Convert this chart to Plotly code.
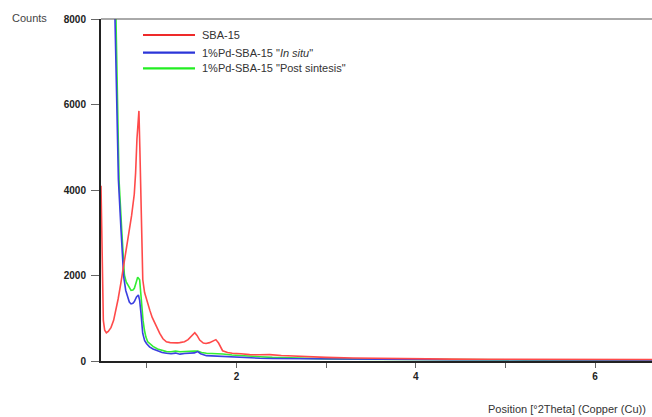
import plotly.graph_objects as go

# ---- data ----
theta_sba = [0.489, 0.497, 0.505, 0.515, 0.53, 0.549, 0.57, 0.6, 0.63, 0.656, 0.68, 0.71, 0.74, 0.77, 0.8,
             0.83, 0.86, 0.875, 0.89, 0.905, 0.912, 0.922, 0.934, 0.944, 0.955, 0.975, 1.0, 1.033, 1.06,
             1.089, 1.12, 1.144, 1.18, 1.218, 1.26, 1.3, 1.34, 1.367, 1.42, 1.46, 1.5, 1.535, 1.56, 1.59,
             1.63, 1.66, 1.7, 1.74, 1.77, 1.8, 1.845, 1.9, 1.953, 2.05, 2.148, 2.26, 2.37, 2.5, 2.6, 2.8,
             3.0, 3.3, 3.6, 4.0, 4.4, 4.8, 5.2, 5.6, 6.0, 6.4, 6.64]
counts_sba = [4100, 3000, 1600, 950, 720, 660, 690, 780, 950, 1200, 1450, 1815, 2200, 2590, 3000,
              3400, 3900, 4400, 5200, 5800, 5850, 5000, 3750, 2600, 1900, 1600, 1400, 1190, 1020,
              880, 740, 645, 520, 450, 430, 420, 425, 430, 450, 500, 580, 660, 600, 490,
              420, 410, 430, 470, 500, 420, 240, 200, 180, 170, 150, 145, 150, 130, 120, 100,
              85, 70, 60, 50, 45, 42, 40, 38, 36, 35, 35]

theta_insitu = [0.49, 0.53, 0.58, 0.62, 0.645, 0.665, 0.683, 0.712, 0.742, 0.765, 0.787, 0.805, 0.824,
                0.845, 0.861, 0.885, 0.906, 0.92, 0.935, 0.954, 0.975, 0.996, 1.03, 1.069, 1.12, 1.17,
                1.219, 1.27, 1.32, 1.37, 1.42, 1.479, 1.53, 1.568, 1.6, 1.665, 1.75, 1.847, 1.95, 2.037,
                2.15, 2.26, 2.4, 2.6, 2.8, 3.0, 3.3, 3.6, 4.0, 4.4, 4.8, 5.2, 5.6, 6.0, 6.4, 6.64]
counts_insitu = [32000, 24000, 15000, 10500, 8000, 6000, 4240, 3070, 1970, 1650, 1500, 1380, 1335,
                 1350, 1390, 1500, 1545, 1420, 1115, 650, 480, 410, 330, 280, 240, 200,
                 180, 170, 185, 160, 175, 180, 190, 220, 170, 125, 115, 100, 90, 85,
                 75, 65, 60, 55, 50, 45, 42, 38, 35, 30, 28, 26, 25, 24, 22, 22]

theta_post = [0.49, 0.53, 0.58, 0.62, 0.656, 0.672, 0.69, 0.72, 0.75, 0.77, 0.787, 0.805, 0.824, 0.845,
              0.861, 0.88, 0.898, 0.91, 0.92, 0.932, 0.943, 0.958, 0.973, 0.99, 1.01, 1.04, 1.069, 1.12,
              1.17, 1.219, 1.27, 1.32, 1.37, 1.42, 1.479, 1.53, 1.568, 1.61, 1.665, 1.75, 1.847, 1.95,
              2.037, 2.15, 2.26, 2.4, 2.6, 2.8, 3.0, 3.3, 3.6, 4.0, 4.4, 4.8, 5.2, 5.6, 6.0, 6.4, 6.64]
counts_post = [33000, 25000, 15800, 11000, 8000, 6000, 4240, 3070, 2010, 1850, 1780, 1700, 1650, 1660,
               1700, 1830, 1960, 1930, 1900, 1600, 1270, 950, 725, 560, 450, 390, 340, 280,
               250, 220, 215, 230, 215, 225, 220, 230, 235, 200, 180, 175, 165, 140,
               125, 110, 100, 85, 70, 60, 50, 45, 40, 35, 30, 28, 26, 25, 24, 22, 22]

y_ticks = [0, 2000, 4000, 6000, 8000]
x_ticks = [1, 2, 3, 4, 5, 6]
x_ticktext = ["", "2", "", "4", "", "6"]

legend_names = ["SBA-15", "1%Pd-SBA-15 \"<i>In situ</i>\"", "1%Pd-SBA-15 \"Post sintesis\""]
colors = ["#ff4a4a", "#3b3fe0", "#33ee33"]
legend_colors = ["#ee2a2a", "#2b35d8", "#22ee22"]

# ---- figure ----
W, H = 652, 417
ml, mr, mt, mb = 101, 0, 19, 56
pw, ph = W - ml - mr, H - mt - mb

fig = go.Figure()
fig.add_trace(go.Scatter(x=theta_post, y=counts_post, mode="lines",
                         line=dict(color=colors[2], width=1.6), showlegend=False))
fig.add_trace(go.Scatter(x=theta_insitu, y=counts_insitu, mode="lines",
                         line=dict(color=colors[1], width=1.6), showlegend=False))
fig.add_trace(go.Scatter(x=theta_sba, y=counts_sba, mode="lines",
                         line=dict(color=colors[0], width=1.6), showlegend=False))


def px2paper(px, py):
    return (px - ml) / pw, (H - mb - py) / ph


shapes = []
annotations = []
# top frame line
shapes.append(dict(type="line", xref="paper", yref="paper", x0=0, x1=1, y0=1, y1=1,
                   line=dict(color="#555555", width=1)))
# manual legend
rows_y = [35, 52.7, 68.3]
for name, c, ry in zip(legend_names, legend_colors, rows_y):
    x0, y0 = px2paper(143, ry)
    x1, _ = px2paper(195, ry)
    shapes.append(dict(type="line", xref="paper", yref="paper", x0=x0, x1=x1, y0=y0, y1=y0,
                       line=dict(color=c, width=2.2)))
    tx, ty = px2paper(200, ry)
    annotations.append(dict(text=name, xref="paper", yref="paper", x=tx, y=ty,
                            xanchor="left", yanchor="middle", showarrow=False,
                            font=dict(family="Liberation Sans, Arial", size=11, color="#333333")))

cx, cy = px2paper(10, 18)
annotations.append(dict(text="Counts", xref="paper", yref="paper", x=cx, y=cy,
                        xanchor="left", yanchor="middle", showarrow=False,
                        font=dict(family="Liberation Sans, Arial", size=11, color="#444444")))
tx, ty = px2paper(648, 409)
annotations.append(dict(text="Position [°2Theta] (Copper (Cu))", xref="paper", yref="paper",
                        x=tx, y=ty, xanchor="right", yanchor="middle", showarrow=False,
                        font=dict(family="Liberation Sans, Arial", size=11, color="#333333")))

fig.update_layout(
    width=W, height=H,
    margin=dict(l=ml, r=mr, t=mt, b=mb, pad=0),
    paper_bgcolor="white", plot_bgcolor="white",
    shapes=shapes, annotations=annotations,
    xaxis=dict(range=[0.489, 6.634], tickmode="array", tickvals=x_ticks, ticktext=x_ticktext,
               showgrid=False, zeroline=False, showline=True, linecolor="#222222", linewidth=2,
               ticks="outside", ticklen=5, tickwidth=1, tickcolor="#666666",
               tickfont=dict(family="Liberation Sans, Arial", size=10, color="#222222", weight="bold")),
    yaxis=dict(range=[0, 8000], tickmode="array", tickvals=y_ticks,
               showgrid=False, zeroline=False, showline=True, linecolor="#222222", linewidth=2,
               ticks="outside", ticklen=8, tickwidth=1, tickcolor="#666666",
               ticklabelstandoff=3,
               tickfont=dict(family="Liberation Sans, Arial", size=10, color="#222222", weight="bold")),
)

fig.write_html("out.html")
